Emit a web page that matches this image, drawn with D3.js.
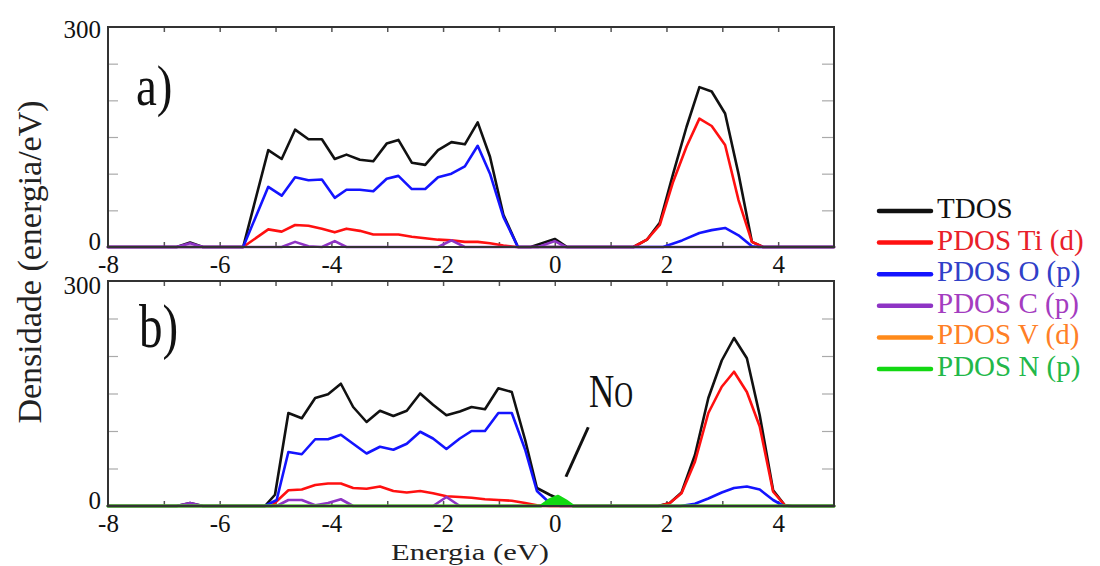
<!DOCTYPE html>
<html>
<head>
<meta charset="utf-8">
<script src="https://cdn.jsdelivr.net/npm/d3@7"></script>
<style>
  html, body { margin: 0; padding: 0; background: #fff; }
  svg { display: block; }
  svg text { font-family: "Liberation Serif", "Tinos", "Times New Roman", Times, serif !important; }
</style>
</head>
<body>
<svg id="chart" width="1100" height="566"></svg>
<script>
// ---------------- data (energy in eV, density in states/eV) ----------------
const xTickLabels = [-8, -6, -4, -2, 0, 2, 4];
const yTickLabels = [0, 300];

// Panel a
const tdosA = [[-8,0],[-6.77,0],[-6.53,6],[-6.3,0],[-5.58,0],[-5.13,132],[-4.89,120],[-4.65,160],[-4.41,147],[-4.17,147],[-3.94,120],[-3.73,126],[-3.49,119],[-3.25,117],[-3.01,141],[-2.80,146],[-2.56,115],[-2.32,112],[-2.09,132],[-1.85,143],[-1.61,140],[-1.38,170],[-1.16,123],[-0.92,44],[-0.66,0],[-0.43,0],[0.0,11],[0.22,0],[1.41,0],[1.65,10],[1.88,33],[2.12,100],[2.36,164],[2.59,218],[2.81,212],[3.05,182],[3.29,100],[3.53,7],[3.73,0],[5,0]];
const tiA = [[-8,0],[-5.58,0],[-5.13,24],[-4.89,21],[-4.65,30],[-4.41,29],[-4.17,25],[-3.94,20],[-3.73,25],[-3.49,22],[-3.25,17],[-3.01,17],[-2.80,17],[-2.56,14],[-2.32,12],[-2.09,10],[-1.85,9],[-1.61,7],[-1.38,7],[-1.16,5],[-0.92,2],[-0.68,0],[1.41,0],[1.65,10],[1.88,30],[2.12,89],[2.36,137],[2.59,175],[2.81,165],[3.05,139],[3.29,64],[3.53,7],[3.73,0],[5,0]];
const oA = [[-8,0],[-5.58,0],[-5.13,82],[-4.89,70],[-4.65,95],[-4.41,91],[-4.17,92],[-3.94,67],[-3.73,78],[-3.49,78],[-3.25,76],[-3.01,93],[-2.80,97],[-2.56,79],[-2.32,79],[-2.09,95],[-1.85,100],[-1.61,110],[-1.38,138],[-1.16,100],[-0.92,41],[-0.66,0],[1.94,0],[2.28,9],[2.59,19],[2.81,23],[3.05,26],[3.29,16],[3.53,1],[3.65,0],[5,0]];
const cA = [[-8,0],[-6.77,0],[-6.53,5],[-6.3,0],[-4.89,0],[-4.65,7],[-4.41,1],[-4.17,0],[-3.94,8],[-3.73,0],[-2.09,0],[-1.85,9],[-1.61,0],[-0.3,0],[0.0,8],[0.2,0],[5,0]];

// Panel b
const tdosB = [[-8,0],[-6.77,0],[-6.53,4],[-6.3,0],[-5.19,0],[-5.01,15],[-4.77,124],[-4.53,117],[-4.29,144],[-4.06,149],[-3.83,163],[-3.61,132],[-3.37,112],[-3.13,127],[-2.89,120],[-2.65,127],[-2.41,150],[-2.18,135],[-1.94,121],[-1.70,126],[-1.49,132],[-1.25,129],[-1.01,157],[-0.77,152],[-0.53,88],[-0.32,24],[-0.09,15],[0.15,7],[0.33,0],[1.85,0],[2.06,4],[2.27,18],[2.51,68],[2.75,144],[2.99,194],[3.21,224],[3.44,197],[3.67,121],[3.91,21],[4.12,1],[4.25,0],[5,0]];
const tiB = [[-8,0],[-5.07,0],[-4.77,21],[-4.53,22],[-4.29,28],[-4.06,30],[-3.83,30],[-3.61,24],[-3.37,23],[-3.13,26],[-2.89,20],[-2.65,18],[-2.41,20],[-2.18,17],[-1.94,13],[-1.70,12],[-1.49,11],[-1.25,9],[-1.01,8],[-0.77,7],[-0.53,4],[-0.32,1],[-0.09,0],[1.87,0],[2.06,4],[2.27,17],[2.51,59],[2.75,124],[2.99,159],[3.21,179],[3.44,152],[3.67,106],[3.91,19],[4.12,1],[4.2,0],[5,0]];
const oB = [[-8,0],[-5.19,0],[-4.98,8],[-4.77,72],[-4.53,69],[-4.29,89],[-4.06,89],[-3.83,95],[-3.61,83],[-3.37,70],[-3.13,79],[-2.89,75],[-2.65,83],[-2.41,99],[-2.18,90],[-1.94,76],[-1.70,90],[-1.49,100],[-1.25,100],[-1.01,124],[-0.77,124],[-0.53,75],[-0.32,20],[-0.09,4],[0.1,0],[2.25,0],[2.51,3],[2.75,10],[2.99,18],[3.21,24],[3.44,26],[3.67,22],[3.91,8],[4.1,0],[5,0]];
const cB = [[-8,0],[-6.77,0],[-6.53,4],[-6.3,0],[-4.98,0],[-4.77,8],[-4.53,8],[-4.29,1],[-4.06,4],[-3.83,9],[-3.61,0],[-2.18,0],[-1.94,12],[-1.70,0],[5,0]];
const vB = [[-8,0],[5,0]];
const nB = [[-8,0],[-0.25,0],[-0.1,8],[0.06,13],[0.2,7],[0.33,0],[5,0]];

const seriesNames = ["TDOS", "PDOS Ti (d)", "PDOS O (p)", "PDOS C (p)", "PDOS V (d)", "PDOS N (p)"];
const lineColors  = ["#111111", "#ff1010", "#1414ff", "#8e34c4", "#ff8a1a", "#12d812"];
const textColors  = ["#111111", "#e8202a", "#3040c8", "#a43cc0", "#ff7f27", "#22b84a"];

// ---------------- layout ----------------
const svg = d3.select("#chart");
const left = 108, right = 834;
const font = '"Liberation Serif", "Tinos", "Times New Roman", Times, serif';
const x = d3.scaleLinear().domain([-8, 5]).range([left, right]);

const panels = [
  { label: "a)", top: 27, bottom: 247, data: [tdosA, tiA, oA, cA, null, null], xPad: 8, yOff: [-6, 2], lab: {x: 136, y: 105, s: 47, sy: 1.2} },
  { label: "b)", top: 281, bottom: 506, data: [tdosB, tiB, oB, cB, vB, nB],    xPad: 8, yOff: [-6, 4], lab: {x: 139, y: 347, s: 47, sy: 1.3} }
];

panels.forEach(p => {
  const y = d3.scaleLinear().domain([0, 300]).range([p.bottom, p.top]);
  const g = svg.append("g");

  // minor/major ticks inside frame
  const axTop = g.append("g").attr("transform", `translate(0,${p.top})`)
    .call(d3.axisTop(x).tickValues(d3.range(-7, 5, 1)).tickSize(-5).tickFormat(""));
  const axBot = g.append("g").attr("transform", `translate(0,${p.bottom})`)
    .call(d3.axisBottom(x).tickValues(d3.range(-7, 5, 1)).tickSize(-5).tickFormat(""));
  const axL = g.append("g").attr("transform", `translate(${left},0)`)
    .call(d3.axisLeft(y).tickValues(d3.range(50, 300, 50)).tickSize(-10).tickFormat(""));
  const axR = g.append("g").attr("transform", `translate(${right},0)`)
    .call(d3.axisRight(y).tickValues(d3.range(50, 300, 50)).tickSize(-12).tickFormat(""));
  [axTop, axBot].forEach(a => { a.select(".domain").remove(); a.selectAll("line").attr("stroke", "#555").attr("stroke-width", 1.5); });
  [axL, axR].forEach(a => { a.select(".domain").remove(); a.selectAll("line").attr("stroke", "#aaa").attr("stroke-width", 1.2); });

  // labelled axes
  const axX = g.append("g").attr("transform", `translate(0,${p.bottom})`)
    .call(d3.axisBottom(x).tickValues(xTickLabels).tickSize(0).tickPadding(p.xPad).tickFormat(d => String(d)));
  axX.select(".domain").remove();
  axX.selectAll("text").style("font-family", font).attr("font-size", 25).attr("fill", "#111");
  const axY = g.append("g").attr("transform", `translate(${left},0)`)
    .call(d3.axisLeft(y).tickValues(yTickLabels).tickSize(0).tickPadding(7).tickFormat(d => String(d)));
  axY.select(".domain").remove();
  axY.selectAll("text").style("font-family", font).attr("font-size", 25).attr("fill", "#111")
    .attr("transform", d => `translate(0,${d === 0 ? p.yOff[0] : p.yOff[1]})`);

  // series
  const line = d3.line().x(d => x(d[0])).y(d => y(d[1]));
  const area = d3.area().x(d => x(d[0])).y0(y(0)).y1(d => y(d[1]));
  p.data.forEach((d, i) => {
    if (!d) return;
    if (i === 5) {
      g.append("path").attr("d", area(d)).attr("fill", lineColors[i]);
    }
    g.append("path").attr("d", line(d))
      .attr("fill", "none").attr("stroke", lineColors[i])
      .attr("stroke-width", i === 5 ? 3 : 2.6)
      .attr("stroke-linejoin", "round").attr("stroke-linecap", "round");
  });

  // frame
  g.append("rect").attr("x", left).attr("y", p.top)
    .attr("width", right - left).attr("height", p.bottom - p.top)
    .attr("fill", "none").attr("stroke", "#333").attr("stroke-width", 2);

  // panel label
  g.append("text").attr("transform", `translate(${p.lab.x},${p.lab.y}) scale(1,${p.lab.sy})`)
    .style("font-family", font).attr("font-size", p.lab.s).attr("fill", "#111").text(p.label);
});

// N_O annotation (panel b)
const yb = d3.scaleLinear().domain([0, 300]).range([panels[1].bottom, panels[1].top]);
svg.append("line")
  .attr("x1", x(0.2)).attr("y1", yb(39))
  .attr("x2", x(0.6)).attr("y2", yb(105))
  .attr("stroke", "#111").attr("stroke-width", 3);
const no = svg.append("text").attr("transform", `translate(589,407) scale(1,1.35)`)
  .style("font-family", font).attr("font-size", 35).attr("fill", "#111");
no.append("tspan").text("N");
no.append("tspan").attr("font-size", 26).text("O");

// axis titles
svg.append("text").attr("transform", "translate(41,262) rotate(-90)")
  .attr("text-anchor", "middle").style("font-family", font).attr("font-size", 34).attr("fill", "#222")
  .text("Densidade (energia/eV)");
svg.append("text").attr("x", 470).attr("y", 560)
  .attr("text-anchor", "middle").style("font-family", font).attr("font-size", 24).attr("fill", "#222")
  .attr("textLength", 158).attr("lengthAdjust", "spacingAndGlyphs")
  .text("Energia (eV)");

// legend
const leg = svg.append("g");
seriesNames.forEach((name, i) => {
  const ly = 211 + i * 31.6;
  leg.append("line").attr("x1", 879).attr("x2", 931).attr("y1", ly).attr("y2", ly)
    .attr("stroke", lineColors[i]).attr("stroke-width", 4.5).attr("stroke-linecap", "round");
  leg.append("text").attr("x", 937).attr("y", ly + 7)
    .style("font-family", font).attr("font-size", 29).attr("fill", textColors[i]).text(name);
});
</script>
</body>
</html>
